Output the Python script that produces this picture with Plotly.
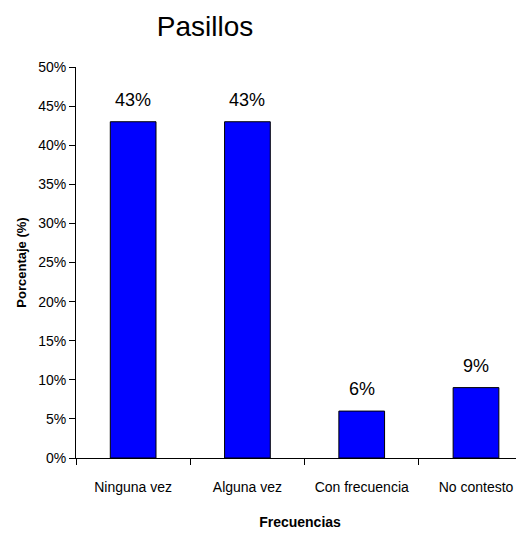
import plotly.graph_objects as go

categories = ["Ninguna vez", "Alguna vez", "Con frecuencia", "No contesto"]
values = [43, 43, 6, 9]
y_ticks = list(range(0, 51, 5))
y_tick_labels = [f"{v}%" for v in y_ticks]

font_main = "Liberation Sans, Arial"

fig = go.Figure()
fig.add_trace(go.Bar(
    x=categories, y=values, width=0.4,
    marker=dict(color="#0000FF", line=dict(color="black", width=1)),
    showlegend=False,
))
for c, v in zip(categories, values):
    fig.add_annotation(x=c, y=v, text=f"{v}%", showarrow=False, yshift=22,
                       font=dict(family=font_main, size=18, color="black"))

fig.update_layout(
    width=524, height=533,
    margin=dict(l=68, r=8, t=59, b=83),
    paper_bgcolor="white", plot_bgcolor="white",
    title=dict(text="Pasillos", x=0.376, xanchor="center", y=0.966, yanchor="middle",
               font=dict(family=font_main, size=28, color="black")),
)
fig.update_xaxes(
    range=[-0.5, 3.42], showline=True, linecolor="black", linewidth=1,
    ticks="outside", tickson="boundaries", ticklen=6, tickcolor="black",
    ticklabelstandoff=16,
    tickfont=dict(family=font_main, size=14, color="black"),
    title=dict(text="<b>Frecuencias</b>", font=dict(family=font_main, size=14, color="black"), standoff=23),
    showgrid=False, zeroline=False,
)
fig.update_yaxes(
    range=[0, 50], tickvals=y_ticks, ticktext=y_tick_labels,
    showline=True, linecolor="black", linewidth=1,
    ticks="outside", ticklen=6, tickcolor="black",
    tickfont=dict(family=font_main, size=14, color="black"),
    title=dict(text="<b>Porcentaje (%)</b>", font=dict(family=font_main, size=13, color="black"), standoff=8),
    showgrid=False, zeroline=False,
)
fig.write_html("out.html")
